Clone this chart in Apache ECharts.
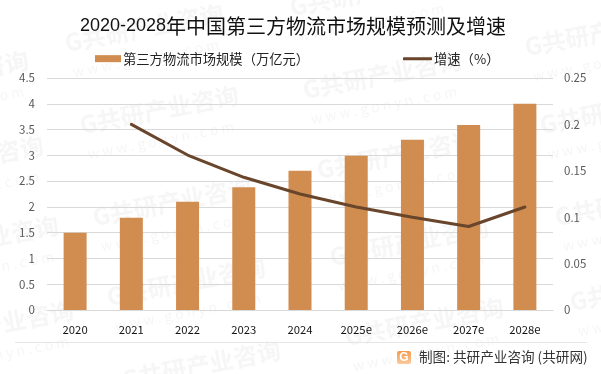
<!DOCTYPE html>
<html><head><meta charset="utf-8">
<style>html,body{margin:0;padding:0;background:#fff}#c{width:601px;height:374px}</style>
<script src="https://cdn.jsdelivr.net/npm/echarts@6/dist/echarts.min.js"></script>
</head><body><div id="c"></div>
<script>
const categories=['2020','2021','2022','2023','2024','2025e','2026e','2027e','2028e'];
const scaleValues=[1.5,1.79,2.1,2.38,2.7,2.99,3.3,3.59,4];
const growthValues=[null,0.2,0.167,0.143,0.125,0.111,0.1,0.09,0.111];
const barName='第三方物流市场规模（万亿元）';
const lineName='增速（%）';
const titleYears='2020-2028';
const titleRest='年中国第三方物流市场规模预测及增速';
const sourceText='制图: 共研产业咨询 (共研网)';
const fontFam='"Noto Sans CJK SC","Noto Sans",sans-serif';
const wmSpots=[[50,-40],[65,43],[80,125],[93,217],[107,297],[122,380],
  [290,7],[303,90],[317,170],[330,257],[345,337],
  [525,47],[540,125],[555,217],[570,302],
  [-130,90],[-115,175],[-100,255],[-85,340]];
const wm=[];
wmSpots.forEach(([x,y])=>{
  wm.push({type:'text',x,y,rotation:0.19,z:-1,silent:true,style:{text:'G共研产业咨询',verticalAlign:'middle',font:'bold 24px '+fontFam,fill:'#f6f6f6'}});
  wm.push({type:'text',x:x+8,y:y+29,rotation:0.19,z:-1,silent:true,style:{text:'w w w . g o n y n . c o m',verticalAlign:'middle',font:'14px '+fontFam,fill:'#f6f6f6'}});
});
const chart=echarts.init(document.getElementById('c'),null,{renderer:'canvas'});
const commonLegend={itemGap:5,padding:0,textStyle:{fontSize:13.3,color:'#222',fontFamily:fontFam,padding:[0,0,0,-3]}};
chart.setOption({
  animation:false,
  backgroundColor:'#fff',
  textStyle:{fontFamily:fontFam},
  title:{text:'{d|'+titleYears+'}{c|'+titleRest+'}',left:80,top:16,padding:0,
    textStyle:{rich:{
      d:{fontSize:18,color:'#111',fontFamily:'"Liberation Sans"',fontWeight:'normal'},
      c:{fontSize:20,color:'#111',fontFamily:fontFam,fontWeight:'normal'}}}},
  legend:[
    Object.assign({},commonLegend,{left:95,top:52,itemWidth:26,itemHeight:7,icon:'rect',data:[barName]}),
    Object.assign({},commonLegend,{left:403,top:52,itemWidth:29,itemHeight:3,icon:'roundRect',data:[lineName]})
  ],
  grid:{left:47,right:48,top:78,bottom:64},
  xAxis:{type:'category',data:categories,
    axisLine:{lineStyle:{color:'#d9d9d9',width:1}},axisTick:{show:false},
    axisLabel:{color:'#111',fontSize:11.3,margin:14}},
  yAxis:[
    {type:'value',min:0,max:4.5,interval:0.5,axisLine:{show:false},axisTick:{show:false},
     axisLabel:{color:'#595959',fontSize:11.5,margin:12},splitLine:{lineStyle:{color:'#d9d9d9',width:1}}},
    {type:'value',min:0,max:0.25,interval:0.05,axisLine:{show:false},axisTick:{show:false},
     axisLabel:{color:'#595959',fontSize:11.5,margin:11},splitLine:{show:false}}
  ],
  series:[
    {name:barName,type:'bar',data:scaleValues,barWidth:23,itemStyle:{color:'#d18c50'}},
    {name:lineName,type:'line',yAxisIndex:1,data:growthValues,symbol:'none',connectNulls:false,
     lineStyle:{color:'#68452b',width:3,cap:'round'},itemStyle:{color:'#68452b'}}
  ],
  graphic:wm.concat([
    {type:'line',silent:true,shape:{x1:15,y1:342.5,x2:587,y2:342.5},style:{stroke:'#e6e6e6',lineWidth:1}},
    {type:'rect',silent:true,shape:{x:397,y:351,width:14,height:13,r:2},
     style:{fill:new echarts.graphic.LinearGradient(0,0,0,1,[{offset:0,color:'#f59a4c'},{offset:1,color:'#fbc99a'}])}},
    {type:'text',silent:true,x:404,y:357.5,style:{text:'G',align:'center',verticalAlign:'middle',font:'bold 12px "Liberation Sans"',fill:'#fff'}},
    {type:'text',silent:true,x:419,y:357,style:{text:sourceText,verticalAlign:'middle',font:'13.6px '+fontFam,fill:'#333'}}
  ])
});
</script></body></html>
